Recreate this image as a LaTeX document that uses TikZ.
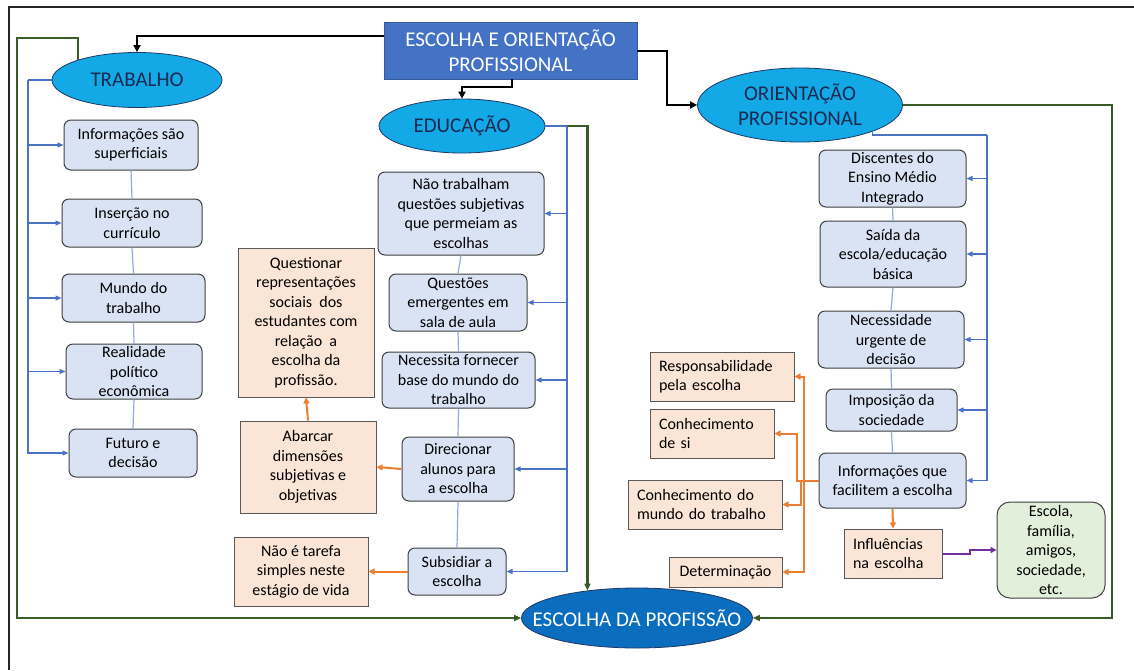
\documentclass[tikz,border=0pt]{standalone}
\usepackage{fontspec}
\setmainfont{Carlito}
\usetikzlibrary{shapes.geometric,arrows.meta}
\definecolor{boxblue}{HTML}{DAE3F3}
\definecolor{boxline}{HTML}{404040}
\definecolor{boxorange}{HTML}{FBE5D6}
\definecolor{oline}{HTML}{595959}
\definecolor{boxgreen}{HTML}{E2EFDA}
\definecolor{cyanell}{HTML}{12A9E6}
\definecolor{ellline}{HTML}{1F3864}
\definecolor{navy}{HTML}{1A2A50}
\definecolor{topblue}{HTML}{4472C4}
\definecolor{darkblue}{HTML}{0A6DBE}
\definecolor{grnline}{HTML}{3A5A28}
\definecolor{bluline}{HTML}{4A72C4}
\definecolor{blulite}{HTML}{8FAADC}
\definecolor{orgline}{HTML}{ED7D31}
\definecolor{purline}{HTML}{7030A0}
\definecolor{frame}{HTML}{262626}
\newcommand\boxfont{\fontsize{16}{19.5}\selectfont}
\newcommand\ellfont{\fontsize{21}{25}\selectfont}
\tikzset{
  bbox/.style={draw=boxline, fill=boxblue, rounded corners=7pt, line width=1pt, align=center, inner sep=1pt, font=\boxfont, text=black},
  obox/.style={draw=oline, fill=boxorange, line width=1pt, align=center, inner sep=1pt, font=\boxfont, text=black},
  lbox/.style={obox, align=left, inner xsep=9pt},
  gbox/.style={draw=boxline, fill=boxgreen, rounded corners=13pt, line width=1pt, align=center, inner sep=1pt, font=\boxfont, text=black},
  ell/.style={ellipse, draw=ellline, fill=cyanell, line width=0.8pt, inner sep=0pt, font=\ellfont, text=navy, align=center},
  blk/.style={draw=black, line width=2pt, -{Triangle[length=7pt,width=7pt]}},
  grn/.style={draw=grnline, line width=2.2pt, -{Triangle[length=7pt,width=6pt]}},
  grnplain/.style={draw=grnline, line width=2.2pt},
  blu/.style={draw=bluline, line width=1.2pt},
  bluarr/.style={draw=bluline, line width=1.2pt, -{Triangle[length=6pt,width=5pt]}},
  bluc/.style={draw=blulite, line width=1.2pt},
  org/.style={draw=orgline, line width=2pt, -{Triangle[length=6pt,width=6pt]}},
  orgplain/.style={draw=orgline, line width=2pt},
  pur/.style={draw=purline, line width=2pt, -{Triangle[length=6pt,width=6pt]}}
}
\begin{document}
\begin{tikzpicture}[x=1pt,y=-1pt]
\useasboundingbox (0,0) rectangle (1134,670);
\fill[white] (0,0) rectangle (1134,670);
% outer frame
\coordinate (fa) at (9,670);
\coordinate (fb) at (9,7);
\coordinate (fc) at (1134,7);
\draw[frame, line width=2pt] (fa) -- (fb) -- (fc);

% top box
\node[draw=topblue!80!black, fill=topblue, line width=0.8pt, minimum width=253pt, minimum height=57pt, inner sep=0pt, align=center, text=white, font=\ellfont] (top) at (510.5,50.5) {ESCOLHA E ORIENTAÇÃO\\PROFISSIONAL};

% ellipses
\node[ell, minimum width=170pt, minimum height=55pt] (trab) at (137,80) {TRABALHO};
\node[ell, minimum width=166pt, minimum height=54pt] (edu) at (462,126) {EDUCAÇÃO};
\node[ell, minimum width=205pt, minimum height=74pt] (ori) at (800,105) {ORIENTAÇÃO\\PROFISSIONAL};
\node[ell, fill=darkblue, text=white, minimum width=231pt, minimum height=60pt, inner xsep=-40pt, inner ysep=-6pt] (esc) at (637,618) {ESCOLHA DA PROFISSÃO};

% TRABALHO column
\node[bbox, minimum width=134pt, minimum height=50pt] (t1) at (131,145) {Informações são\\superficiais};
\node[bbox, minimum width=140pt, minimum height=48pt] (t2) at (132,223) {Inserção no\\currículo};
\node[bbox, minimum width=143pt, minimum height=48pt] (t3) at (133.5,298) {Mundo do\\trabalho};
\node[bbox, minimum width=136pt, minimum height=55pt, inner ysep=-3pt] (t4) at (134,371.5) {Realidade\\político\\econômica};
\node[bbox, minimum width=128pt, minimum height=48pt] (t5) at (133,453) {Futuro e\\decisão};

% EDUCACAO column
\node[bbox, minimum width=166pt, minimum height=83pt] (e1) at (461,213.5) {Não trabalham\\questões subjetivas\\que permeiam as\\escolhas};
\node[bbox, minimum width=138pt, minimum height=57pt] (e2) at (458,302.5) {Questões\\emergentes em\\sala de aula};
\node[bbox, minimum width=153pt, minimum height=56pt] (e3) at (458.5,380) {Necessita fornecer\\base do mundo do\\trabalho};
\node[bbox, minimum width=112pt, minimum height=64pt] (e4) at (458,469) {Direcionar\\alunos para\\a escolha};
\node[bbox, minimum width=98pt, minimum height=47pt] (e5) at (457,571.5) {Subsidiar a\\escolha};

\node[obox, minimum width=136pt, minimum height=149pt] (q) at (306,322.5) {Questionar\\representações\\sociais~ dos\\estudantes com\\relação~ a\\escolha da\\profissão.};
\node[obox, minimum width=136pt, minimum height=92pt] (ab) at (308,467) {Abarcar\\dimensões\\subjetivas e\\objetivas};
\node[obox, minimum width=134pt, minimum height=69pt] (nt) at (301,571.5) {Não é tarefa\\simples neste\\estágio de vida};

% ORIENTACAO column
\node[bbox, minimum width=147pt, minimum height=57pt] (o1) at (892.5,178.5) {Discentes do\\Ensino Médio\\Integrado};
\node[bbox, minimum width=146pt, minimum height=66pt] (o2) at (893,254) {Saída da\\escola/educação\\básica};
\node[bbox, minimum width=146pt, minimum height=57pt] (o3) at (891,339.5) {Necessidade\\urgente de\\decisão};
\node[bbox, minimum width=131pt, minimum height=42pt] (o4) at (891.5,410) {Imposição da\\sociedade};
\node[bbox, minimum width=147pt, minimum height=55pt] (o5) at (892.5,480.5) {Informações que\\facilitem a escolha};

\node[lbox, text width=126pt, minimum height=49pt] (r1) at (722,376.5) {Responsabilidade\\pela escolha};
\node[lbox, text width=106pt, minimum height=49pt] (r2) at (712,433.5) {Conhecimento\\de si};
\node[lbox, text width=136pt, minimum height=49pt] (r3) at (705,504.5) {Conhecimento do\\mundo do trabalho};
\node[obox, minimum width=113pt, minimum height=30pt] (r4) at (725.5,572) {Determinação};
\node[lbox, text width=80pt, minimum height=49pt] (inf) at (893,553.5) {Influências\\na escolha};
\node[gbox, minimum width=108pt, minimum height=96pt] (g) at (1051,550) {Escola,\\família,\\amigos,\\sociedade,\\etc.};

% black connectors
\draw[blk] ([yshift=14.5pt]top.west) -| (trab.north);
\draw[blk] ([xshift=1.5pt]top.south) -- ++(0,8) -| (edu.north);
\coordinate (k3) at (667,50.5);
\draw[blk] (top.east) -- (k3) |- (ori.west);

% green connectors
\coordinate (gl1) at (17,38);
\draw[grn] (trab.161) |- (gl1) |- (esc.west);
\draw[grn] (edu.east) -| (esc.151.6);
\coordinate (gr) at (1112,105);
\draw[grn] (ori.east) -- (gr) |- (esc.east);

% blue connectors TRABALHO
\coordinate (tl) at (28,80);
\draw[blu] (trab.west) -- (tl);
\foreach \n in {t1,t2,t3,t4,t5} \draw[bluarr] (tl) |- (\n.west);
\draw[bluc] (t1.south) -- (t2.north);
\draw[bluc] (t2.south) -- (t3.north);
\draw[bluc] (t3.south) -- (t4.north);
\draw[bluc] (t4.south) -- (t5.north);

% blue connectors EDUCACAO
\coordinate (el) at (567,126);
\draw[blu] (edu.east) -- (el);
\foreach \n in {e1,e2,e3,e4,e5} \draw[bluarr] (el) |- (\n.east);
\draw[bluc] (e1.south) -- (e2.north);
\draw[bluc] (e2.south) -- (e3.north);
\draw[bluc] (e3.south) -- (e4.north);
\draw[bluc] (e4.south) -- (e5.north);

% blue connectors ORIENTACAO
\coordinate (orr) at (987,135);
\draw[blu] (ori.-20) |- (orr);
\foreach \n in {o1,o2,o3,o4,o5} \draw[bluarr] (orr) |- (\n.east);
\draw[bluc] (o1.south) -- (o2.north);
\draw[bluc] (o2.south) -- (o3.north);
\draw[bluc] (o3.south) -- (o4.north);
\draw[bluc] (o4.south) -- (o5.north);

% orange connectors
\draw[org] (e4.west) -- (ab.east);
\draw[org] (e5.west) -- (nt.east);
\draw[org] (ab.north) -- (q.south);
\draw[org] (o5.south) -- (inf.north);
\coordinate (b1) at (804,480.5);
\coordinate (b2) at (797,480.5);
\coordinate (b3) at (801,480.5);
\draw[org] (o5.west) -- (b1) |- (r1.east);
\draw[org] (o5.west) -- (b2) |- (r2.east);
\draw[org] (o5.west) -- (b3) |- (r3.east);
\draw[org] (o5.west) -- (b1) |- (r4.east);

% purple connector
\draw[pur] (inf.east) -- ++(27,0) |- (g.west);
\end{tikzpicture}
\end{document}
